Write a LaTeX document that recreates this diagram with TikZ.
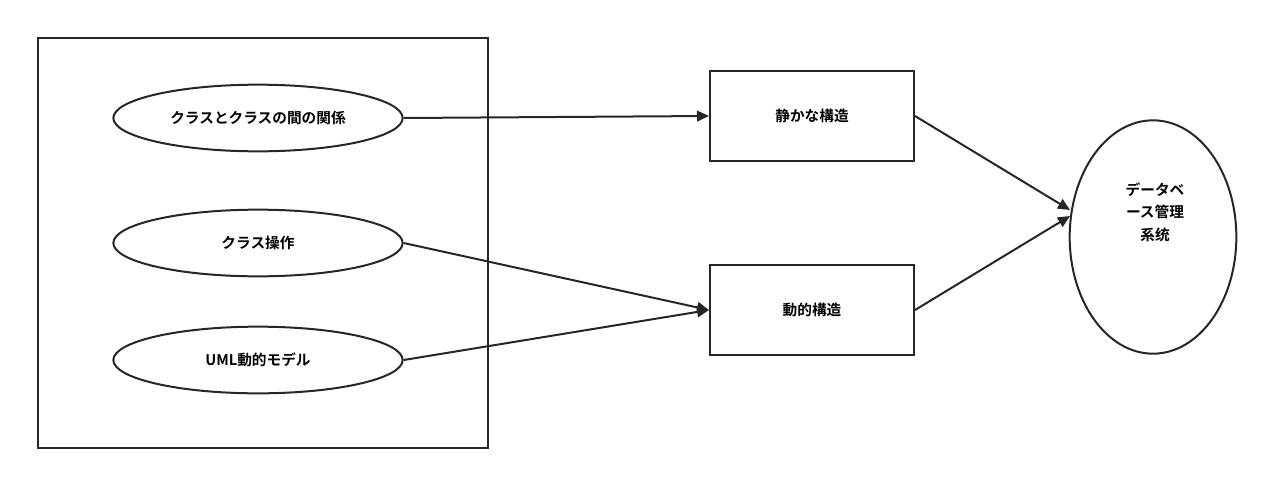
\documentclass[tikz,border=0pt]{standalone}
\usepackage{fontspec}
\setmainfont{Noto Sans CJK JP}[BoldFont={* Bold}]
\usetikzlibrary{shapes.geometric,arrows.meta}
\begin{document}
\begin{tikzpicture}[x=0.75pt,y=-0.75pt,
  ln/.style={line width=1.5pt,draw=black!85},
  el/.style={ellipse,ln,minimum width=217pt,minimum height=50pt,font=\bfseries\fontsize{11}{13}\selectfont,inner sep=0pt},
  bx/.style={rectangle,ln,minimum width=153pt,minimum height=68pt,font=\bfseries\fontsize{11}{13}\selectfont},
  ar/.style={ln,-{Triangle[length=9pt,width=8pt]}}]
\useasboundingbox (0,0) rectangle (1275,486);
\draw[ln] (38,38) rectangle (488,448);
\node[el] (e1) at (258,118) {クラスとクラスの間の関係};
\node[el] (e2) at (258,243) {クラス操作};
\node[el] (e3) at (258,360) {UML動的モデル};
\node[bx] (b1) at (812,116) {静かな構造};
\node[bx] (b2) at (812,310) {動的構造};
\node[ellipse,ln,minimum width=125pt,minimum height=175pt,inner sep=0pt] (d) at (1153,237) {};
\node[align=center,font=\bfseries\fontsize{11}{17}\selectfont] (dt) at (1155,212) {データベ\\ース管理\\系统};
\draw[ar] (e1.east) -- (b1.west);
\draw[ar] (e2.east) -- (b2.west);
\draw[ar] (e3.east) -- (b2.west);
\draw[ar] (b1.east) -- (1070,210);
\draw[ar] (b2.east) -- (1070,216);
\end{tikzpicture}
\end{document}
